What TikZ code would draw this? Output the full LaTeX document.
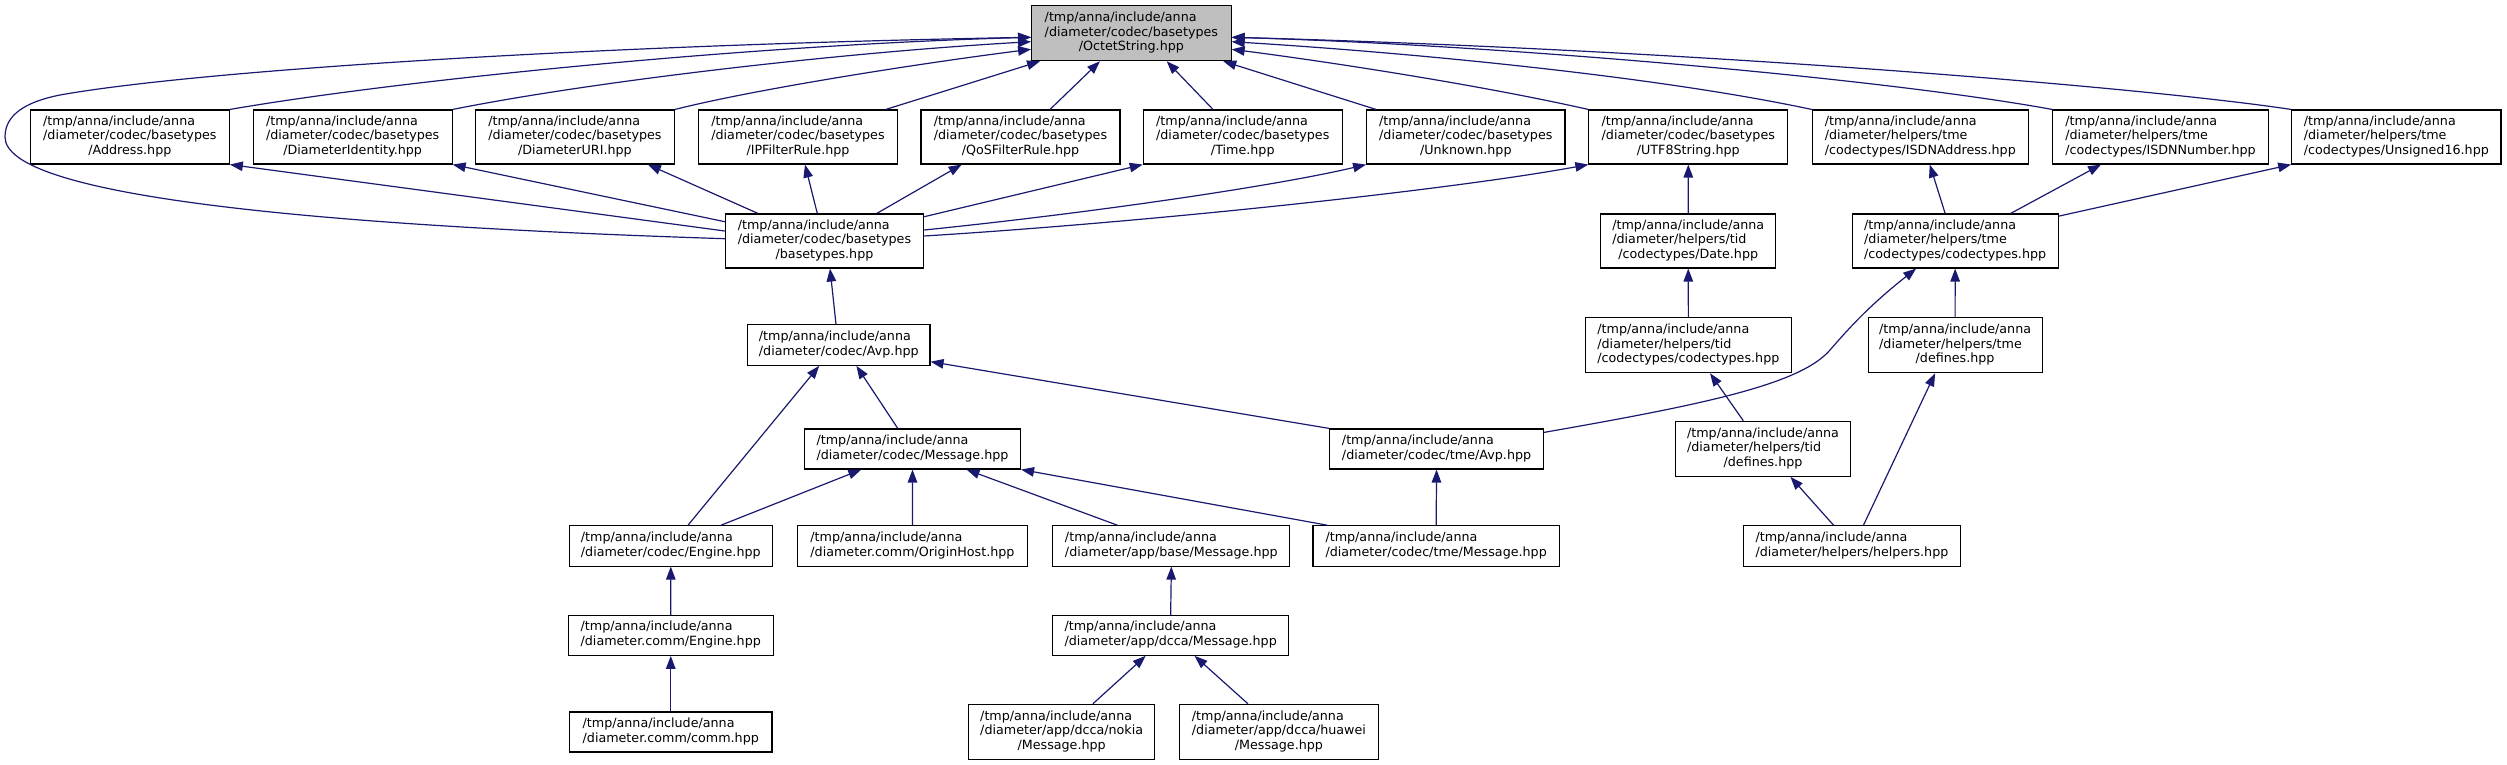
\documentclass[tikz,border=0pt]{standalone}
\usepackage{fontspec}
\setmainfont{DejaVu Sans}
\usetikzlibrary{arrows.meta,calc}
\definecolor{edgeblue}{HTML}{191970}
\definecolor{rootgrey}{HTML}{BFBFBF}
\newcommand\lblthree[3]{\begin{tabular}{@{}l@{}}#1\\#2\\\multicolumn{1}{@{}c@{}}{#3}\end{tabular}}
\newcommand\lbltwo[2]{\begin{tabular}{@{}l@{}}#1\\\multicolumn{1}{@{}c@{}}{#2}\end{tabular}}
\newcommand\TA{/tmp/anna/include/anna}
\tikzset{
  file/.style={draw=black, fill=white, line width=1.1pt, inner sep=0pt, rectangle,
    font=\fontsize{12.7}{14.5}\selectfont},
  rootfile/.style={file, fill=rootgrey},
  edge/.style={draw=edgeblue, line width=1.2pt, -{Triangle[length=13pt,width=9.5pt]}}
}
\begin{document}
\begin{tikzpicture}[x=1pt,y=-1pt]
\useasboundingbox (0,0) rectangle (2507,765);
% row 0
\node[rootfile, minimum width=199.5, minimum height=55] (oct) at (1131.35,33.2) {\lblthree{\TA}{/diameter/codec/basetypes}{/OctetString.hpp}};
% row 1
\node[file, minimum width=198.9, minimum height=54] (addr) at (129.85,137) {\lblthree{\TA}{/diameter/codec/basetypes}{/Address.hpp}};
\node[file, minimum width=198.9, minimum height=54] (did) at (352.65,137) {\lblthree{\TA}{/diameter/codec/basetypes}{/DiameterIdentity.hpp}};
\node[file, minimum width=199, minimum height=54] (duri) at (574.9,137) {\lblthree{\TA}{/diameter/codec/basetypes}{/DiameterURI.hpp}};
\node[file, minimum width=198.4, minimum height=54] (ipf) at (798,137) {\lblthree{\TA}{/diameter/codec/basetypes}{/IPFilterRule.hpp}};
\node[file, minimum width=199, minimum height=54] (qos) at (1020.5,137) {\lblthree{\TA}{/diameter/codec/basetypes}{/QoSFilterRule.hpp}};
\node[file, minimum width=199, minimum height=54] (time) at (1242.75,137) {\lblthree{\TA}{/diameter/codec/basetypes}{/Time.hpp}};
\node[file, minimum width=198.4, minimum height=54] (unk) at (1465.8,137) {\lblthree{\TA}{/diameter/codec/basetypes}{/Unknown.hpp}};
\node[file, minimum width=198.8, minimum height=54] (utf8) at (1688.3,137) {\lblthree{\TA}{/diameter/codec/basetypes}{/UTF8String.hpp}};
\node[file, minimum width=215.9, minimum height=54] (isdna) at (1920.25,137) {\lblthree{\TA}{/diameter/helpers/tme}{/codectypes/ISDNAddress.hpp}};
\node[file, minimum width=215.4, minimum height=54] (isdnn) at (2160.5,137) {\lblthree{\TA}{/diameter/helpers/tme}{/codectypes/ISDNNumber.hpp}};
\node[file, minimum width=209.3, minimum height=54] (u16) at (2396.35,137) {\lblthree{\TA}{/diameter/helpers/tme}{/codectypes/Unsigned16.hpp}};
% row 2
\node[file, minimum width=198.4, minimum height=54] (base) at (824.5,241) {\lblthree{\TA}{/diameter/codec/basetypes}{/basetypes.hpp}};
\node[file, minimum width=175, minimum height=54] (date) at (1688.25,241) {\lblthree{\TA}{/diameter/helpers/tid}{/codectypes/Date.hpp}};
\node[file, minimum width=206, minimum height=54] (tmecodec) at (1955.15,241) {\lblthree{\TA}{/diameter/helpers/tme}{/codectypes/codectypes.hpp}};
% row 3
\node[file, minimum width=182.4, minimum height=40.6] (avp) at (838.8,345) {\lbltwo{\TA}{/diameter/codec/Avp.hpp}};
\node[file, minimum width=205.5, minimum height=55] (tidcodec) at (1688.35,345.2) {\lblthree{\TA}{/diameter/helpers/tid}{/codectypes/codectypes.hpp}};
\node[file, minimum width=174, minimum height=55] (tmedef) at (1955.1,345.2) {\lblthree{\TA}{/diameter/helpers/tme}{/defines.hpp}};
% row 4
\node[file, minimum width=216, minimum height=40] (msg) at (912.5,449) {\lbltwo{\TA}{/diameter/codec/Message.hpp}};
\node[file, minimum width=213.3, minimum height=40] (tmeavp) at (1436.55,449) {\lbltwo{\TA}{/diameter/codec/tme/Avp.hpp}};
\node[file, minimum width=174.7, minimum height=55] (tiddef) at (1763,448.8) {\lblthree{\TA}{/diameter/helpers/tid}{/defines.hpp}};
% row 5
\node[file, minimum width=202.8, minimum height=40.3] (engine) at (670.8,545.9) {\lbltwo{\TA}{/diameter/codec/Engine.hpp}};
\node[file, minimum width=230, minimum height=40.3] (origin) at (912.45,545.9) {\lbltwo{\TA}{/diameter.comm/OriginHost.hpp}};
\node[file, minimum width=237, minimum height=40.3] (appbase) at (1171.35,545.9) {\lbltwo{\TA}{/diameter/app/base/Message.hpp}};
\node[file, minimum width=246.3, minimum height=40.3] (tmemsg) at (1436.15,545.9) {\lbltwo{\TA}{/diameter/codec/tme/Message.hpp}};
\node[file, minimum width=217, minimum height=40.3] (helpers) at (1851.95,545.9) {\lbltwo{\TA}{/diameter/helpers/helpers.hpp}};
% row 6
\node[file, minimum width=205, minimum height=40] (commengine) at (670.75,635.3) {\lbltwo{\TA}{/diameter.comm/Engine.hpp}};
\node[file, minimum width=236, minimum height=40] (dcca) at (1170.65,635.3) {\lbltwo{\TA}{/diameter/app/dcca/Message.hpp}};
% row 7
\node[file, minimum width=202.5, minimum height=40] (comm) at (670.75,732) {\lbltwo{\TA}{/diameter.comm/comm.hpp}};
\node[file, minimum width=186.5, minimum height=55] (nokia) at (1061.65,731.8) {\lblthree{\TA}{/diameter/app/dcca/nokia}{/Message.hpp}};
\node[file, minimum width=198.6, minimum height=55] (huawei) at (1278.9,731.8) {\lblthree{\TA}{/diameter/app/dcca/huawei}{/Message.hpp}};

% edges to OctetString
\draw[edge] ($(base.west)+(0,-2.3)$) .. controls (300,225) and (5,195) .. (5,137)
  .. controls (5,115) and (25,102) .. (60,95)
  .. controls (200,70) and (600,45) .. ($(oct.west)+(0,4.1)$);
\draw[edge] (addr.north east) .. controls (400,80) and (750,45) .. ($(oct.west)+(0,4.1)$);
\draw[edge] (did.north east) .. controls (600,80) and (850,52) .. ($(oct.west)+(0,8.5)$);
\draw[edge] (duri.north east) .. controls (760,88) and (930,62) .. ($(oct.west)+(0,16.1)$);
\draw[edge] ($(ipf.north east)+(-12,0)$) -- ($(oct.south west)+(9,0)$);
\draw[edge] ($(qos.north)+(29.5,0)$) -- ($(oct.south)+(-31.4,0)$);
\draw[edge] ($(time.north)+(-29.75,0)$) -- ($(oct.south)+(35.3,0)$);
\draw[edge] ($(unk.north west)+(10,0)$) -- ($(oct.south east)+(-8.4,0)$);
\draw[edge] (utf8.north west) .. controls (1480,85) and (1330,62) .. ($(oct.east)+(0,16.1)$);
\draw[edge] (isdna.north west) .. controls (1650,75) and (1400,52) .. ($(oct.east)+(0,8.5)$);
\draw[edge] (isdnn.north west) .. controls (1880,78) and (1500,45) .. ($(oct.east)+(0,4.1)$);
\draw[edge] (u16.north west) .. controls (2150,88) and (1700,50) .. ($(oct.east)+(0,4.1)$);
% edges to row 1
\draw[edge] ($(base.west)+(0,-10)$) -- (addr.south east);
\draw[edge] ($(base.west)+(0,-19.3)$) -- (did.south east);
\draw[edge] ($(base.north)+(-66.5,0)$) -- ($(duri.south)+(73,0)$);
\draw[edge] ($(base.north)+(-7.2,0)$) -- ($(ipf.south)+(7,0)$);
\draw[edge] ($(base.north)+(52.2,0)$) -- ($(qos.south)+(-58.8,0)$);
\draw[edge] ($(base.east)+(0,-24.3)$) -- (time.south west);
\draw[edge] ($(base.east)+(0,-11)$) .. controls (1100,212) and (1280,185) .. (unk.south west);
\draw[edge] ($(base.east)+(0,-5)$) .. controls (1150,222) and (1450,190) .. (utf8.south west);
\draw[edge] (date.north) -- (utf8.south);
\draw[edge] ($(tmecodec.north)+(-10,0)$) -- ($(isdna.south)+(9.5,0)$);
\draw[edge] ($(tmecodec.north)+(55.5,0)$) -- ($(isdnn.south)+(-59.5,0)$);
\draw[edge] ($(tmecodec.north east)+(0,2.7)$) -- (u16.south west);
% lower edges
\draw[edge] (tidcodec.north) -- (date.south);
\draw[edge] ($(avp.north)+(-2.8,0)$) -- ($(base.south)+(5.5,0)$);
\draw[edge] ($(tmeavp.north east)+(0,4)$) .. controls (1700,405) and (1800,385) .. (1830,350)
  .. controls (1850,327) and (1870,305) .. ($(tmecodec.south)+(-39,0)$);
\draw[edge] (tmedef.north) -- (tmecodec.south);
\draw[edge] ($(tiddef.north)+(-19.7,0)$) -- ($(tidcodec.south)+(21.7,0)$);
\draw[edge] ($(helpers.north)+(11.5,0)$) -- ($(tmedef.south)+(-20,0)$);
\draw[edge] ($(helpers.north)+(-18.4,0)$) -- ($(tiddef.south)+(27.4,0)$);
\draw[edge] ($(msg.north)+(-14.7,0)$) -- ($(avp.south)+(17.6,0)$);
\draw[edge] ($(engine.north)+(17.2,0)$) -- ($(avp.south)+(-19.6,0)$);
\draw[edge] (tmeavp.north west) -- ($(avp.east)+(0,16.7)$);
\draw[edge] ($(engine.north)+(50.2,0)$) -- ($(msg.south)+(-51.2,0)$);
\draw[edge] (origin.north) -- (msg.south);
\draw[edge] ($(appbase.north)+(-54,0)$) -- ($(msg.south)+(54,0)$);
\draw[edge] ($(tmemsg.north west)+(14.8,0)$) -- (msg.south east);
\draw[edge] (tmemsg.north) -- (tmeavp.south);
\draw[edge] (commengine.north) -- (engine.south);
\draw[edge] (comm.north) -- (commengine.south);
\draw[edge] (dcca.north) -- (appbase.south);
\draw[edge] ($(nokia.north)+(31.3,0)$) -- ($(dcca.south)+(-25,0)$);
\draw[edge] ($(huawei.north)+(-31,0)$) -- ($(dcca.south)+(23.9,0)$);
\end{tikzpicture}
\end{document}
